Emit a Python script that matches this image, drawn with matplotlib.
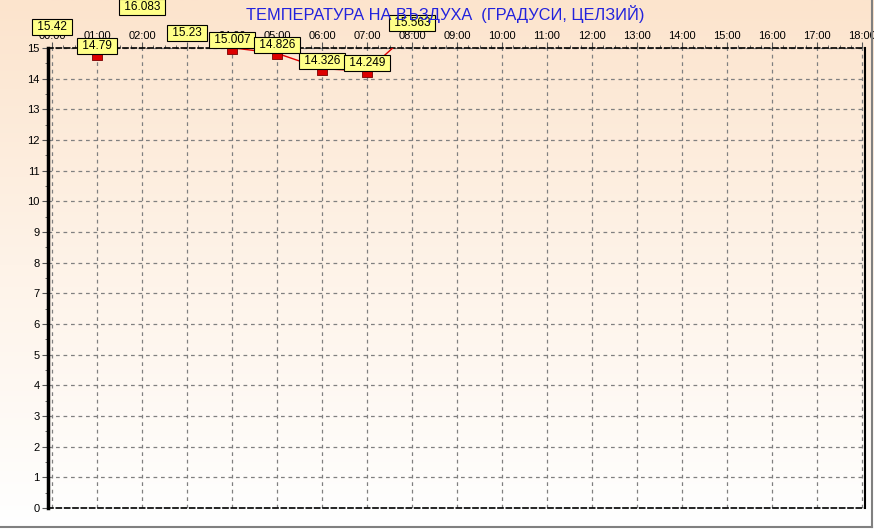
import matplotlib
matplotlib.use("Agg")
import matplotlib.pyplot as plt
import numpy as np
from matplotlib.colors import LinearSegmentedColormap
from matplotlib.lines import Line2D

plt.rcParams["font.family"] = ["Liberation Sans", "DejaVu Sans"]

# hourly air temperature
hours = [0, 1, 2, 3, 4, 5, 6, 7, 8]
temps = [15.42, 14.79, 16.083, 15.23, 15.007, 14.826, 14.326, 14.249, 15.563]
hour_labels = ["%02d:00" % h for h in range(19)]
y_ticks = list(range(16))

W, H = 874, 529
fig = plt.figure(figsize=(W / 100, H / 100), dpi=100)

# background gradient
bg = fig.add_axes([0, 0, 1, 1], zorder=-10)
cmap = LinearSegmentedColormap.from_list("bg", ["#fce4cd", "#fef3e8", "#ffffff"])
grad = np.linspace(0, 1, 256).reshape(-1, 1)
bg.imshow(grad, aspect="auto", cmap=cmap, extent=[0, 1, 0, 1], origin="upper")
bg.set_axis_off()

# frame lines at right/bottom edge
fig.add_artist(Line2D([0, 872 / W], [1 - 527 / H] * 2, color="#808080", lw=1.5))
fig.add_artist(Line2D([872 / W] * 2, [1 - 527 / H, 1], color="#808080", lw=1.5))

left, right, top, bottom = 48, 865, 48, 508
ax = fig.add_axes([left / W, 1 - bottom / H, (right - left) / W, (bottom - top) / H])
ax.patch.set_alpha(0)

ax.plot(hours, temps, color="#e00000", lw=1, zorder=3)
# marker hangs just below the data point
rect = [(-1, 0), (1, 0), (1, -1.2), (-1, -1.2), (-1, 0)]
ax.plot(hours, temps, ls="none", marker=rect, markersize=8.6,
        markerfacecolor="#dd0000", markeredgecolor="#7a0000", markeredgewidth=0.6, zorder=4)

for h, t in zip(hours, temps):
    ax.annotate(" %s " % t, (h, t), xytext=(0, 5.8), textcoords="offset points",
                ha="center", va="center", fontsize=8.5, annotation_clip=False,
                bbox=dict(boxstyle="square,pad=0.16", fc="#ffff88", ec="black", lw=0.8),
                zorder=10)

ax.set_xlim(-4 / 45, (right - 52) / 45)
ax.set_ylim(0, 15)
ax.set_xticks(range(19))
ax.set_xticklabels(hour_labels)
ax.set_xticks(np.arange(0, 18.01, 0.25), minor=True)
ax.set_yticks(y_ticks)
ax.set_yticks(np.arange(0, 15.01, 0.5), minor=True)
ax.xaxis.tick_top()
ax.tick_params(axis="x", which="major", labelsize=8, length=4, pad=1, color="#555555")
ax.tick_params(axis="x", which="minor", length=2, color="#555555")
ax.tick_params(axis="y", which="major", labelsize=8, length=4, pad=2, color="#555555")
ax.tick_params(axis="y", which="minor", length=2, color="#555555")

ax.grid(True, which="major", color="#808080", ls=(0, (3, 3)), lw=0.9)

ax.spines["left"].set_linewidth(2.5)
ax.spines["right"].set_linewidth(1.5)
for s in ("top", "bottom"):
    ax.spines[s].set_linestyle((0, (3, 2)))
    ax.spines[s].set_linewidth(1.2)

fig.text(445 / W, 1 - 14 / H, "ТЕМПЕРАТУРА НА ВЪЗДУХА  (ГРАДУСИ, ЦЕЛЗИЙ)",
         ha="center", va="center", fontsize=11.8, color="#2222dd")

fig.savefig("out.png", dpi=100)
